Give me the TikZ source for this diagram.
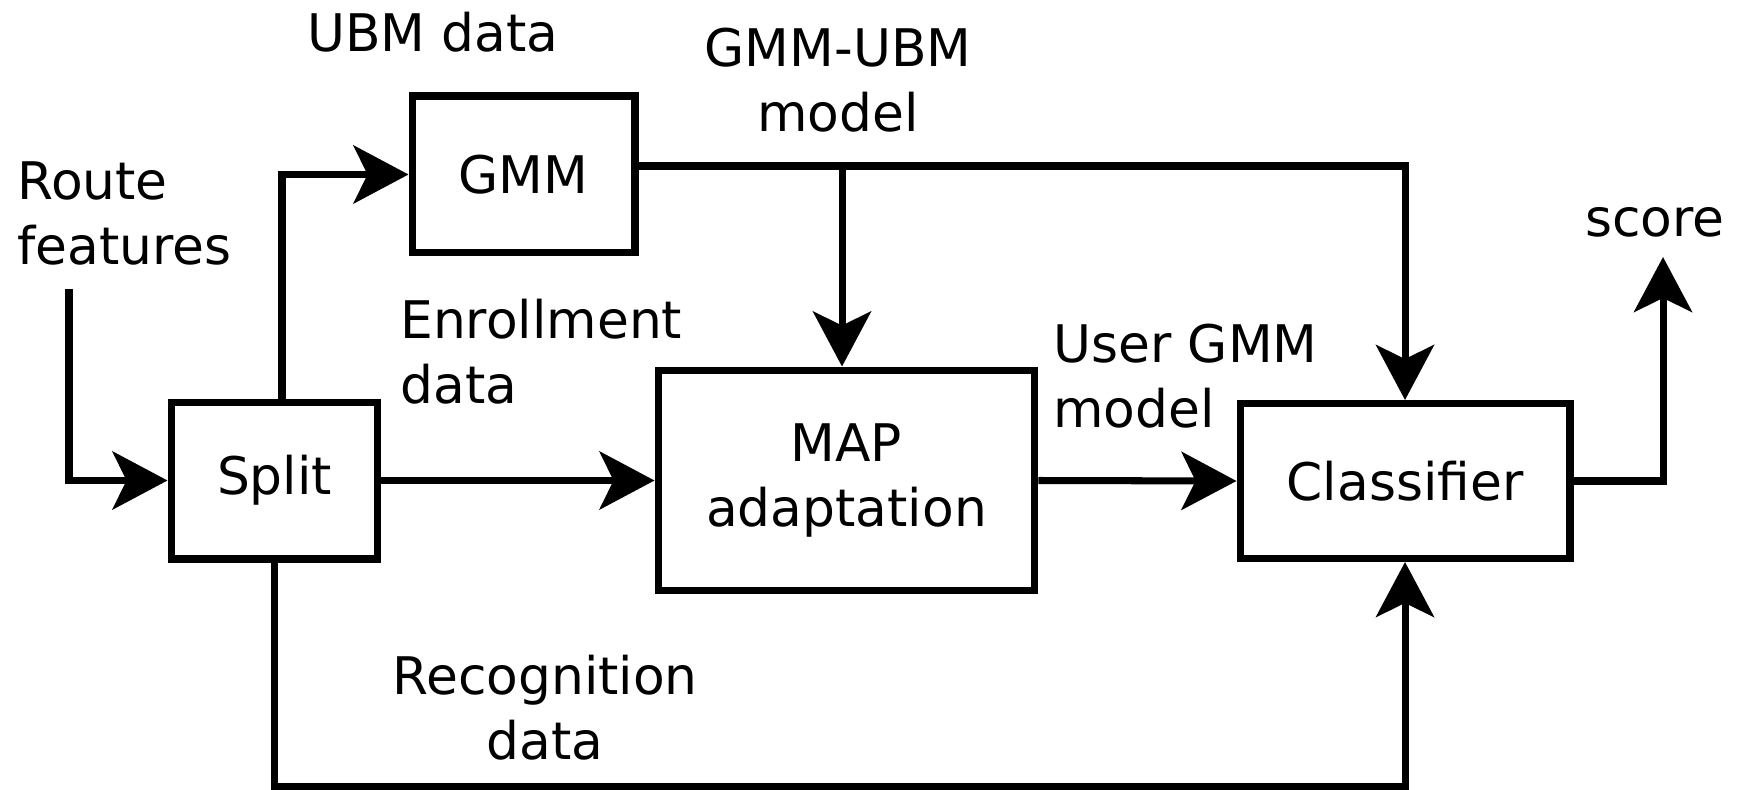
\documentclass[tikz,border=0pt]{standalone}
\usepackage{fontspec}
\setmainfont{DejaVu Sans}
\usetikzlibrary{arrows.meta, positioning}
\def\lw{4pt}
\tikzset{block/.style={draw, line width=\lw, inner sep=0pt, align=center}}
\tikzset{conn/.style={line width=\lw, -{Stealth[length=1.1cm, width=1.16cm, inset=0.28cm]}}}
\tikzset{lbl/.style={inner sep=0pt, align=center}}
\begin{document}
\begin{tikzpicture}[x=0.02cm, y=-0.02cm, font=\fontsize{29.5}{37}\selectfont]
  \useasboundingbox (0,0) rectangle (1740,790);
  % Blocks
  \node[block, minimum width=4.46cm, minimum height=3.14cm] (GMM) at (523.5,174.5) {GMM};
  \node[block, minimum width=4.14cm, minimum height=3.14cm] (Split) at (274.5,480.5) {Split};
  \node[block, minimum width=7.54cm, minimum height=4.42cm] (MAP) at (846.5,480.5) {MAP\\adaptation};
  \node[block, minimum width=6.6cm, minimum height=3.1cm] (Classifier) at (1405,481) {Classifier};

  % Labels
  \node[lbl, anchor=west, align=left] (route) at (17,213) {Route\\features};
  \node[lbl, anchor=base] (ubm) at (433,52) {UBM data};
  \node[lbl] (gmmubm) at (838,80) {GMM-UBM\\model};
  \node[lbl, anchor=west, align=left] (enroll) at (400,352) {Enrollment\\data};
  \node[lbl, anchor=west, align=left] (user) at (1053,376) {User GMM\\model};
  \node[lbl] (recog) at (545,708) {Recognition\\data};
  \node[lbl, anchor=base] (score) at (1655,237) {score};

  % Free ends
  \coordinate (in) at (69,289);
  \coordinate (out) at (1663,257);
  \coordinate (low) at (0,787);
  \coordinate (tap) at ([yshift=0.17cm]GMM.east);
  \coordinate (mapin) at ([xshift=-0.09cm]MAP.north);

  % Connectors
  \draw[conn] (in) |- (Split.west);
  \draw[conn] ([xshift=0.15cm]Split.north) |- (GMM.west);
  \draw[conn] (Split.east) -- (MAP.west);
  \draw[conn] (MAP.east) -- (Classifier.west);
  \draw[conn] (tap) -| (Classifier.north);
  \draw[conn] (tap -| mapin) -- (mapin);
  \draw[conn] (Split.south) -- (Split.south |- low) -| (Classifier.south);
  \draw[conn] (Classifier.east) -| (out);
\end{tikzpicture}
\end{document}
